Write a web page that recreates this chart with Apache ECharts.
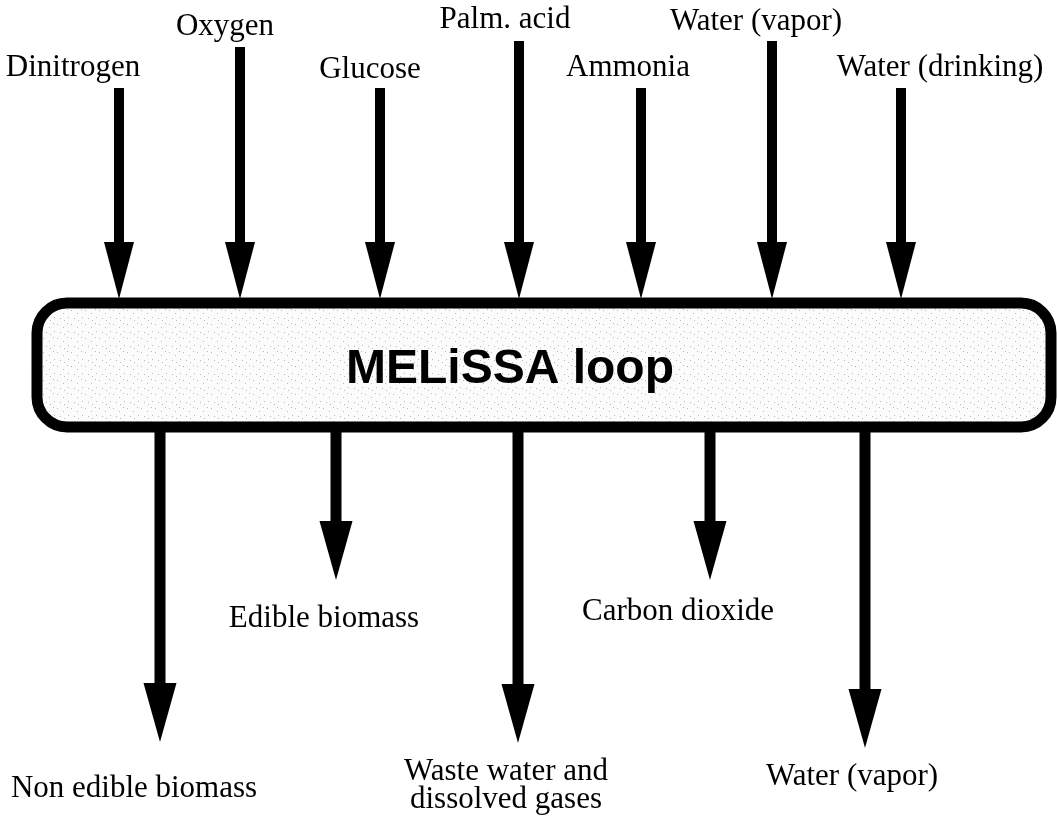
<!DOCTYPE html>
<html>
<head>
<meta charset="utf-8">
<title>MELiSSA loop</title>
<style>
  html, body { margin: 0; padding: 0; background: #fff; }
  #main { width: 1057px; height: 818px; }
</style>
<script src="https://cdn.jsdelivr.net/npm/echarts@6/dist/echarts.min.js"></script>
</head>
<body>
<div id="main"></div>
<script>
// inputs entering the loop (top)
var inputNames = ['Dinitrogen', 'Oxygen', 'Glucose', 'Palm. acid', 'Ammonia', 'Water (vapor)', 'Water (drinking)'];
var inputX = [119, 240, 380, 519, 641, 772, 901];
var inputTop = [88, 47, 88, 41, 88, 41, 88];
var inputLabelX = [73, 225, 370, 505, 628, 756, 940];
var inputLabelY = [78, 37, 80, 30, 78, 32, 78];

// outputs leaving the loop (bottom)
var outputNames = ['Non edible biomass', 'Edible biomass', 'Waste water and\ndissolved gases', 'Carbon dioxide', 'Water (vapor)'];
var outputX = [160, 336, 518, 710, 865];
var outputTip = [742, 580, 743, 580, 748];
var outputLabelX = [134, 324, 506, 678, 852];
var outputLabelY = [799, 629, 782, 622, 787];

// the loop box: left, top, right, bottom
var loopBox = [37, 303, 1051, 427];
var loopTitle = 'MELiSSA loop';

var SERIF = '31px "Liberation Serif", "Times New Roman", serif';

var chart = echarts.init(document.getElementById('main'));

// light stippled fill like the scanned original
function stipple() {
    var c = document.createElement('canvas');
    c.width = 14;
    c.height = 14;
    var ctx = c.getContext('2d');
    ctx.fillStyle = '#fbfbfb';
    ctx.fillRect(0, 0, 14, 14);
    ctx.fillStyle = '#b8b8b8';
    var dots = [[1, 2], [7, 5], [11, 1], [4, 10], [12, 9], [8, 12]];
    dots.forEach(function (d) {
        ctx.fillRect(d[0], d[1], 1, 1);
    });
    return c;
}

function arrowShape(api, x, yStart, yTip, headLen, headW, shaftW) {
    var a = api.coord([x, yStart]);
    var b = api.coord([x, yTip]);
    var dir = b[1] > a[1] ? 1 : -1;
    var baseY = b[1] - dir * headLen;
    return {
        type: 'group',
        children: [
            {
                type: 'rect',
                shape: {x: a[0] - shaftW / 2, y: Math.min(a[1], baseY), width: shaftW, height: Math.abs(baseY - a[1]) + 1},
                style: {fill: '#000'}
            },
            {
                type: 'polygon',
                shape: {points: [[b[0] - headW / 2, baseY], [b[0] + headW / 2, baseY], [b[0], b[1]]]},
                style: {fill: '#000'}
            }
        ]
    };
}

function labelShape(api, x, baseline, text, font, size) {
    var lines = text.split('\n');
    var children = lines.map(function (t, i) {
        var p = api.coord([x, baseline + i * 28]);
        return {
            type: 'text',
            style: {
                text: t,
                x: p[0],
                y: p[1] - size * 0.34,
                font: font,
                fill: '#000',
                align: 'center',
                verticalAlign: 'middle'
            }
        };
    });
    return {type: 'group', children: children};
}

var inputData = inputX.map(function (x, i) { return [x, inputTop[i], loopBox[1] - 4]; });
var outputData = outputX.map(function (x, i) { return [x, loopBox[3], outputTip[i]]; });
var inputLabels = inputNames.map(function (n, i) { return [inputLabelX[i], inputLabelY[i]]; });
var outputLabels = outputNames.map(function (n, i) { return [outputLabelX[i], outputLabelY[i]]; });

var option = {
    animation: false,
    grid: {left: 0, right: 0, top: 0, bottom: 0},
    xAxis: {type: 'value', min: 0, max: 1057, show: false},
    yAxis: {type: 'value', min: 0, max: 818, inverse: true, show: false},
    series: [
        {
            type: 'custom',
            name: 'inputs',
            data: inputData,
            renderItem: function (params, api) {
                return arrowShape(api, api.value(0), api.value(1), api.value(2), 57, 30, 10);
            }
        },
        {
            type: 'custom',
            name: 'outputs',
            data: outputData,
            renderItem: function (params, api) {
                return arrowShape(api, api.value(0), api.value(1), api.value(2), 59, 33, 11);
            }
        },
        {
            type: 'custom',
            name: 'loop',
            data: [loopBox],
            z: 3,
            renderItem: function (params, api) {
                var p0 = api.coord([api.value(0), api.value(1)]);
                var p1 = api.coord([api.value(2), api.value(3)]);
                var mid = api.coord([510, 387]);
                return {
                    type: 'group',
                    children: [
                        {
                            type: 'rect',
                            shape: {x: p0[0], y: p0[1], width: p1[0] - p0[0], height: p1[1] - p0[1], r: 30},
                            style: {fill: {image: stipple(), repeat: 'repeat'}, stroke: '#000', lineWidth: 11}
                        },
                        {
                            type: 'text',
                            style: {
                                text: loopTitle,
                                x: mid[0],
                                y: mid[1] - 48 * 0.35,
                                font: 'bold 48px "Liberation Sans", Arial, sans-serif',
                                fill: '#000',
                                align: 'center',
                                verticalAlign: 'middle'
                            }
                        }
                    ]
                };
            }
        },
        {
            type: 'custom',
            name: 'inputLabels',
            data: inputLabels,
            renderItem: function (params, api) {
                return labelShape(api, api.value(0), api.value(1), inputNames[params.dataIndex], SERIF, 31);
            }
        },
        {
            type: 'custom',
            name: 'outputLabels',
            data: outputLabels,
            renderItem: function (params, api) {
                return labelShape(api, api.value(0), api.value(1), outputNames[params.dataIndex], SERIF, 31);
            }
        }
    ]
};

chart.setOption(option);
</script>
</body>
</html>
